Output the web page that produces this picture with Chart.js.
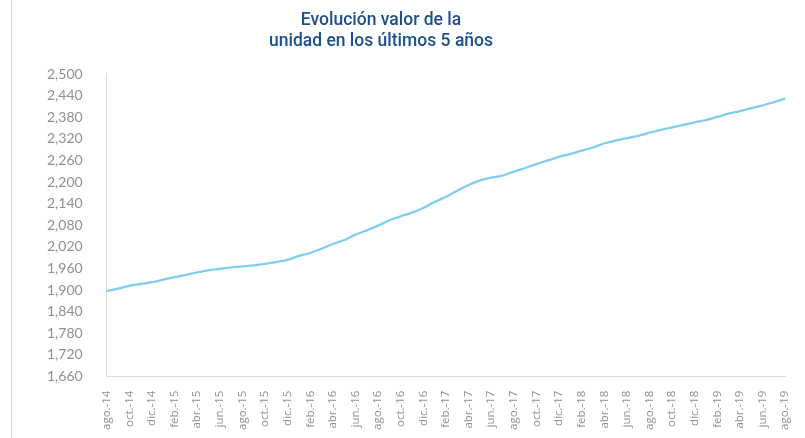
<!DOCTYPE html>
<html>
<head>
<meta charset="utf-8">
<script src="https://cdn.jsdelivr.net/npm/chart.js@4.4.1/dist/chart.umd.min.js"></script>
<style>
    html, body { margin: 0; padding: 0; background: #fff; }
    #wrap { position: relative; width: 805px; height: 438px; }
    #frame { position: absolute; left: 11px; top: 0; width: 1px; height: 438px; background: #d9d9d9; }
    #title {
        position: absolute; left: 0; top: 9px; width: 762px;
        text-align: center; color: #1c4f8f;
        font-family: Roboto, sans-serif; font-weight: 500; font-size: 17.5px; line-height: 21px;
    }
</style>
</head>
<body>
<div id="wrap">
    <div id="frame"></div>
    <canvas id="unidadChart" width="805" height="438"></canvas>
    <div id="title"></div>
</div>
<script>
// Meses (ago.-14 a ago.-19), una etiqueta por mes
const months = [
    "ago.-14", "sep.-14", "oct.-14", "nov.-14", "dic.-14",
    "ene.-15", "feb.-15", "mar.-15", "abr.-15", "may.-15", "jun.-15", "jul.-15",
    "ago.-15", "sep.-15", "oct.-15", "nov.-15", "dic.-15",
    "ene.-16", "feb.-16", "mar.-16", "abr.-16", "may.-16", "jun.-16", "jul.-16",
    "ago.-16", "sep.-16", "oct.-16", "nov.-16", "dic.-16",
    "ene.-17", "feb.-17", "mar.-17", "abr.-17", "may.-17", "jun.-17", "jul.-17",
    "ago.-17", "sep.-17", "oct.-17", "nov.-17", "dic.-17",
    "ene.-18", "feb.-18", "mar.-18", "abr.-18", "may.-18", "jun.-18", "jul.-18",
    "ago.-18", "sep.-18", "oct.-18", "nov.-18", "dic.-18",
    "ene.-19", "feb.-19", "mar.-19", "abr.-19", "may.-19", "jun.-19", "jul.-19",
    "ago.-19"
];

// Valor de la unidad
const unitValue = [
    1897, 1904, 1912, 1917, 1922,
    1929, 1936, 1942, 1949, 1955, 1959, 1963,
    1966, 1969, 1973, 1978, 1984,
    1995, 2003, 2015, 2028, 2039, 2054, 2066,
    2079, 2094, 2105, 2115, 2128,
    2145, 2159, 2176, 2192, 2204, 2212, 2218,
    2229, 2239, 2250, 2260, 2270,
    2278, 2287, 2296, 2307, 2315, 2322, 2328,
    2337, 2345, 2352, 2359, 2366,
    2372, 2381, 2390, 2397, 2405, 2413, 2422,
    2432
];

const Y_MIN = 1660;
const Y_MAX = 2500;
const Y_STEP = 60;

const titleLines = ["Evolución valor de la", "unidad en los últimos 5 años"];

// Titulo como texto HTML (centrado como en el original)
document.getElementById('title').innerHTML = titleLines.join('<br>');

const ctx = document.getElementById('unidadChart').getContext('2d');
new Chart(ctx, {
    type: 'line',
    data: {
        labels: months,
        datasets: [
            {
                label: 'Valor unidad',
                data: unitValue,
                borderColor: '#80cdef',
                borderWidth: 2.3,
                pointRadius: 0,
                tension: 0.2,
                fill: false
            }
        ]
    },
    options: {
        responsive: false,
        animation: false,
        layout: {
            padding: { left: 31, right: 16, top: 74, bottom: 2 }
        },
        plugins: {
            legend: { display: false },
            tooltip: { enabled: false },
            title: { display: false }
        },
        scales: {
            x: {
                grid: { display: false },
                border: { display: true, color: '#dcdcdc', width: 1 },
                ticks: {
                    autoSkip: false,
                    maxRotation: 90,
                    minRotation: 90,
                    padding: 6,
                    color: '#8f8f8f',
                    font: { family: 'Open Sans', size: 11.5 },
                    callback: function (value, index) {
                        return index % 2 === 0 ? this.getLabelForValue(value) : null;
                    }
                }
            },
            y: {
                min: Y_MIN,
                max: Y_MAX,
                grid: { display: false },
                border: { display: true, color: '#dcdcdc', width: 1 },
                ticks: {
                    stepSize: Y_STEP,
                    padding: 16,
                    color: '#8f8f8f',
                    font: { family: 'Lato', size: 14 },
                    callback: (v) => v.toLocaleString('en-US')
                }
            }
        }
    }
});
</script>
</body>
</html>
